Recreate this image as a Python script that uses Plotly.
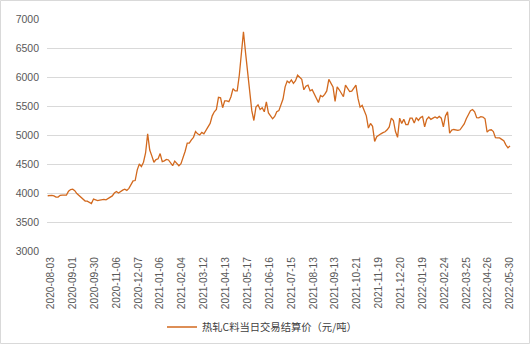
import numpy as np
import plotly.graph_objects as go

# tick labels (every 21 trading days)
tick_labels = ["2020-08-03", "2020-09-01", "2020-09-30", "2020-11-06", "2020-12-07",
               "2021-01-06", "2021-02-04", "2021-03-12", "2021-04-13", "2021-05-17",
               "2021-06-16", "2021-07-15", "2021-08-13", "2021-09-13", "2021-10-21",
               "2021-11-19", "2021-12-20", "2022-01-19", "2022-02-24", "2022-03-25",
               "2022-04-26", "2022-05-30"]
tick_day_index = [3 + 21 * k for k in range(len(tick_labels))]

# settlement price, sampled every 2 trading days (yuan/ton)
sample_step = 2
prices = [
    3953, 3958, 3960, 3950, 3930, 3930, 3960, 3965, 3962, 3965,
    4030, 4060, 4065, 4040, 3990, 3955, 3920, 3890, 3862, 3860,
    3845, 3818, 3895, 3880, 3870, 3878, 3885, 3890, 3882, 3900,
    3930, 3950, 4000, 4025, 4000, 4030, 4050, 4065, 4045, 4080,
    4150, 4210, 4215, 4400, 4500, 4455, 4530, 4690, 5020, 4740,
    4640, 4530, 4575, 4590, 4680, 4540, 4555, 4580, 4570, 4510,
    4470, 4550, 4500, 4470, 4505, 4600, 4720, 4860, 4860, 4915,
    4960, 5060, 5020, 5000, 5045, 5020, 5090, 5140, 5200, 5330,
    5400, 5440, 5650, 5640, 5470, 5590, 5590, 5575, 5660, 5800,
    5760, 5760, 6030, 6350, 6780, 6420, 6080, 5780, 5420, 5250,
    5480, 5520, 5440, 5470, 5400, 5570, 5380, 5330, 5280, 5320,
    5400, 5420, 5510, 5620, 5830, 5930, 5900, 5950, 5890, 5935,
    6030, 5990, 5960, 5780, 5840, 5860, 5760, 5780, 5700, 5640,
    5560, 5680, 5660, 5700, 5760, 5960, 5880, 5830, 5580, 5830,
    5780, 5720, 5660, 5860, 5800, 5750, 5755, 5820, 5860, 5630,
    5480, 5510, 5435, 5330, 5120, 5200, 5150, 4890, 4970, 5000,
    5020, 5040, 5055, 5090, 5140, 5290, 5250, 5060, 4960, 5290,
    5200, 5270, 5180, 5180, 5290, 5290, 5205, 5300, 5250, 5300,
    5320, 5140, 5270, 5310, 5270, 5290, 5310, 5290, 5320, 5290,
    5140, 5330, 5400, 5030, 5085, 5095, 5090, 5080, 5090, 5150,
    5190, 5280, 5355, 5420, 5440, 5400, 5300, 5295, 5315, 5310,
    5280, 5050, 5085, 5090, 5060, 4955, 4950, 4950, 4925, 4900,
    4830, 4780, 4810,
]
series_name = "热轧C料当日交易结算价（元/吨）"

x_idx = np.arange(len(prices)) * sample_step

W, H = 531, 345
ml, mr, mt, mb = 47, 19, 19, 94
pw, ph = W - ml - mr, H - mt - mb

fig = go.Figure()
fig.add_trace(go.Scatter(
    x=x_idx, y=prices, mode="lines", name=series_name,
    line=dict(color="#D2691E", width=1.3),
))

fig.update_layout(
    width=W, height=H,
    margin=dict(l=ml, r=mr, t=mt, b=mb, pad=0, autoexpand=False),
    paper_bgcolor="white", plot_bgcolor="white",
    font=dict(family="Liberation Sans, Arial, sans-serif", color="#595959", size=10),
    showlegend=True,
    legend=dict(orientation="h", x=(262 - ml) / pw, xanchor="center", y=(H - mb - 327) / ph,
                yanchor="middle",
                font=dict(family="Noto Sans CJK SC", size=10.3, color="#404040"),
                itemwidth=30, bgcolor="rgba(0,0,0,0)"),
    xaxis=dict(
        range=[-0.67, 445.9], tickmode="array", tickvals=tick_day_index, ticktext=tick_labels,
        tickangle=-90, showgrid=False, zeroline=False, showline=False, ticks="",
        automargin=False, tickfont=dict(size=10.2, color="#595959"), ticklabelstandoff=3,
    ),
    yaxis=dict(
        range=[3000, 7000], tickvals=list(range(3000, 7001, 500)),
        showgrid=True, gridcolor="#D9D9D9", gridwidth=1, zeroline=False, showline=False,
        ticks="", automargin=False, tickfont=dict(size=10.5, color="#595959"), ticklabelstandoff=7,
    ),
    shapes=[dict(type="rect", xref="paper", yref="paper",
                 x0=(0.5 - ml) / pw, x1=(529.5 - ml) / pw,
                 y0=(H - mb - 343.5) / ph, y1=(H - mb - 0.5) / ph,
                 line=dict(color="#D9D9D9", width=1), fillcolor="rgba(0,0,0,0)")],
)

fig.write_html("out.html")
